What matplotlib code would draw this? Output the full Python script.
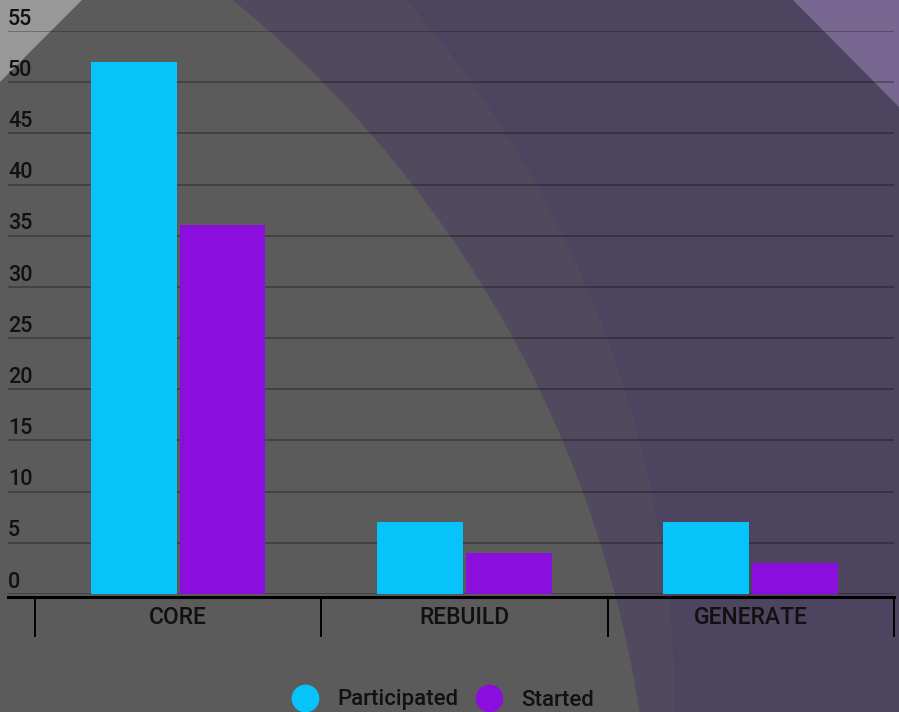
import numpy as np
import matplotlib
matplotlib.use('Agg')
import matplotlib.pyplot as plt
import matplotlib.transforms as mtransforms
from matplotlib.patches import Circle, Polygon, Rectangle
from matplotlib.lines import Line2D

plt.rcParams['font.family'] = ['Roboto', 'DejaVu Sans']
plt.rcParams['font.weight'] = 'medium'

# data
categories = ['CORE', 'REBUILD', 'GENERATE']
participated = [52, 7, 7]
started = [36, 4, 3]
yticks = [0, 5, 10, 15, 20, 25, 30, 35, 40, 45, 50, 55]
series_names = ['Participated', 'Started']
series_colors = ['#06c4fa', '#8a0fdc']

W, H = 899, 712
fig = plt.figure(figsize=(W / 100, H / 100), dpi=100)
fig.patch.set_facecolor('#4d455f')

# background decoration, pixel coords with y pointing down
bg = fig.add_axes([0, 0, 1, 1], zorder=-1)
bg.set_xlim(0, W)
bg.set_ylim(H, 0)
bg.axis('off')
bg.add_patch(Rectangle((0, 0), W, H, color='#4d455f'))
bg.add_patch(Circle((-420, 718), 1095, facecolor='#51495d', edgecolor='none'))
bg.add_patch(Circle((-493, 887), 1146, facecolor='#5b5b5b', edgecolor='none'))
bg.add_patch(Polygon([(0, 0), (82, 0), (0, 82)], facecolor='#989898', edgecolor='none'))
bg.add_patch(Polygon([(793, 0), (W, 0), (W, 107)], facecolor='#786891', edgecolor='none'))

# main axes: x from 8 to 894 px, y from 31 to 594 px (from top)
ax = fig.add_axes([8 / W, (H - 594) / H, 886 / W, 563 / H])
ax.set_facecolor('none')

x = np.arange(len(categories))
bw = 0.30
ax.bar(x - 0.155, participated, bw, color=series_colors[0], zorder=3)
ax.bar(x + 0.155, started, bw, color=series_colors[1], zorder=3)

ax.set_xlim(-0.594, 2.5)
ax.set_ylim(0, 55)

ax.set_yticks(yticks)
ax.yaxis.grid(True, color='black', alpha=0.28, lw=1.4)
ax.tick_params(axis='y', left=False, labelleft=False)
ax.set_axisbelow(True)

lab_tf = mtransforms.offset_copy(
    mtransforms.blended_transform_factory(ax.transAxes, ax.transData),
    fig=fig, x=0, y=1, units='points')
for v in yticks:
    ax.text(0, v, str(v), transform=lab_tf, ha='left', va='bottom',
            fontsize=15.5, color='#111111')

for s in ['top', 'right', 'left']:
    ax.spines[s].set_visible(False)
ax.spines['bottom'].set_position(('outward', 1.8))
ax.spines['bottom'].set_linewidth(2.2)
ax.spines['bottom'].set_color('black')

ax.set_xticks(x)
ax.set_xticklabels(categories, fontsize=16.5, color='#111111')
ax.set_xticks(np.arange(-0.5, 3, 1), minor=True)
ax.tick_params(axis='x', which='major', length=0, pad=6.5)
ax.tick_params(axis='x', which='minor', length=29, width=1.4, color='black')

handles = [Line2D([], [], marker='o', ls='none', markersize=20,
                  markerfacecolor=c, markeredgecolor='none') for c in series_colors]
fig.legend(handles, series_names, loc='center', bbox_to_anchor=(443 / W, (H - 700) / H),
           ncol=2, frameon=False, fontsize=16, handletextpad=0.85, columnspacing=0.8,
           handlelength=1.2, labelcolor='#111111')

fig.savefig('out.png', dpi=100)
